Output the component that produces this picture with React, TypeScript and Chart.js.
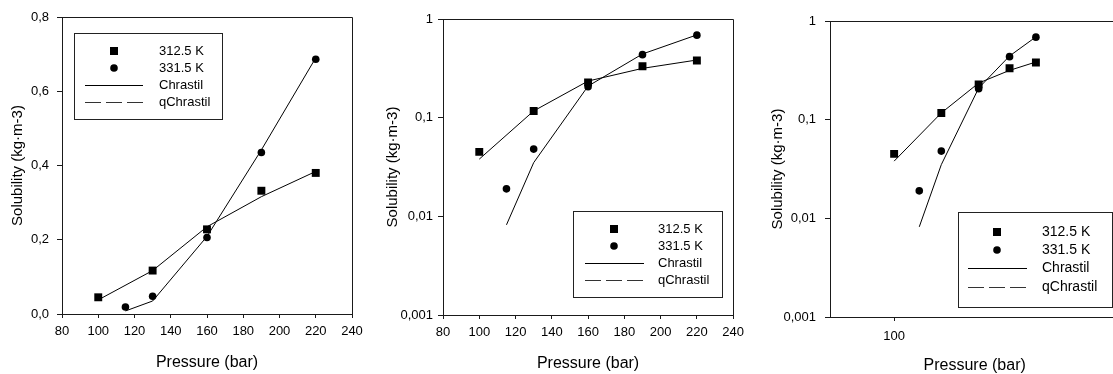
import React, { useEffect, useRef } from 'react';
import { Chart, registerables } from 'chart.js';

Chart.register(...registerables);

// ---- data ----
const pressureSquares = [100, 130, 160, 190, 220];
const solubility3125 = [0.045, 0.117, 0.228, 0.332, 0.38];
const pressureCircles = [115, 130, 160, 190, 220];
const solubility3315 = [0.019, 0.048, 0.206, 0.435, 0.686];
const chrastil3125 = [0.038, 0.117, 0.235, 0.316, 0.384];
const chrastil3315 = [0.0082, 0.035, 0.209, 0.442, 0.69];
const legendLabels = ['312.5 K', '331.5 K', 'Chrastil', 'qChrastil'];
const linearYTicks = [0, 0.2, 0.4, 0.6, 0.8];
const logYTicks = [0.001, 0.01, 0.1, 1];
const linearXTicks = [80, 100, 120, 140, 160, 180, 200, 220, 240];
const logXTicks = [100];
const xTitle = 'Pressure (bar)';
const yTitle = 'Solubility (kg·m-3)';

const FONT = 'Arial, "Liberation Sans", sans-serif';
const INK = '#000';
const AXIS = '#1a1a1a';

type LegendSpec = {
  box: [number, number, number, number];
  rows: number[];
  markerX: number;
  line: [number, number];
  textX: number;
  fontSize: number;
};

type PanelSpec = {
  left: number;
  width: number;
  height: number;
  area: { left: number; right: number; top: number; bottom: number };
  xType: 'linear' | 'logarithmic';
  xMin: number;
  xMax: number;
  xTicks: number[];
  yType: 'linear' | 'logarithmic';
  yMin: number;
  yMax: number;
  yTicks: number[];
  yLabelPad: number;
  xLabelPad: number;
  xTitlePad: number;
  yTitlePad: number;
  legend: LegendSpec;
  drawRight: boolean;
};

const pts = (xs: number[], ys: number[]) => xs.map((x, i) => ({ x, y: ys[i] }));

const fmtY = (v: number) => {
  if (v === 1) return '1';
  if (v >= 0.1 || v === 0) return v.toFixed(1).replace('.', ',');
  return String(v).replace('.', ',');
};
const fmtYLog = (v: number) => (v === 1 ? '1' : String(v).replace('.', ','));

const panels: PanelSpec[] = [
  {
    left: 0, width: 375, height: 374,
    area: { left: 62, right: 352, top: 17, bottom: 314 },
    xType: 'linear', xMin: 80, xMax: 240, xTicks: linearXTicks,
    yType: 'linear', yMin: 0, yMax: 0.8, yTicks: linearYTicks,
    yLabelPad: 8, xLabelPad: 6, xTitlePad: 3, yTitlePad: 10,
    legend: { box: [74, 33, 148, 86], rows: [51, 68, 85, 102], markerX: 114, line: [85, 143], textX: 159, fontSize: 13 },
    drawRight: true,
  },
  {
    left: 375, width: 375, height: 374,
    area: { left: 68, right: 360, top: 19, bottom: 315 },
    xType: 'linear', xMin: 80, xMax: 240, xTicks: linearXTicks,
    yType: 'logarithmic', yMin: 0.001, yMax: 1, yTicks: logYTicks,
    yLabelPad: 5, xLabelPad: 6, xTitlePad: 2, yTitlePad: 10.5,
    legend: { box: [198, 211, 149, 86], rows: [229, 246, 263, 280], markerX: 239, line: [210, 269], textX: 283, fontSize: 13 },
    drawRight: true,
  },
  {
    left: 750, width: 375, height: 374,
    area: { left: 80, right: 370, top: 21, bottom: 317 },
    xType: 'logarithmic', xMin: 70, xMax: 350, xTicks: logXTicks,
    yType: 'logarithmic', yMin: 0.001, yMax: 1, yTicks: logYTicks,
    yLabelPad: 9, xLabelPad: 8, xTitlePad: 0.5, yTitlePad: 20.5,
    legend: { box: [208, 212, 154, 95], rows: [232, 250, 268, 287], markerX: 247, line: [218, 277], textX: 292, fontSize: 14 },
    drawRight: false,
  },
];

function makeFramePlugin(spec: PanelSpec) {
  return {
    id: 'frameAndLegend',
    afterDraw(chart: any) {
      const ctx: CanvasRenderingContext2D = chart.ctx;
      const a = chart.chartArea;
      ctx.save();
      ctx.strokeStyle = AXIS;
      ctx.lineWidth = 1;
      ctx.beginPath();
      const top = Math.round(a.top) + 0.5;
      const right = Math.round(a.right) + 0.5;
      ctx.moveTo(Math.round(a.left), top);
      ctx.lineTo(spec.drawRight ? right : chart.width, top);
      if (spec.drawRight) ctx.lineTo(right, Math.round(a.bottom) + 1);
      ctx.stroke();

      // legend
      const L = spec.legend;
      ctx.fillStyle = '#fff';
      ctx.fillRect(L.box[0], L.box[1], L.box[2], L.box[3]);
      ctx.strokeStyle = '#222';
      ctx.strokeRect(L.box[0] + 0.5, L.box[1] + 0.5, L.box[2], L.box[3]);
      ctx.fillStyle = INK;
      // square
      ctx.fillRect(L.markerX - 4, L.rows[0] - 4, 8, 8);
      // circle
      ctx.beginPath();
      ctx.arc(L.markerX, L.rows[1], 3.8, 0, Math.PI * 2);
      ctx.fill();
      // solid line
      ctx.strokeStyle = INK;
      ctx.beginPath();
      ctx.moveTo(L.line[0], L.rows[2] + 0.5);
      ctx.lineTo(L.line[1], L.rows[2] + 0.5);
      ctx.stroke();
      // dashed line
      ctx.setLineDash([16, 5]);
      ctx.strokeStyle = '#333';
      ctx.beginPath();
      ctx.moveTo(L.line[0], L.rows[3] + 0.5);
      ctx.lineTo(L.line[1], L.rows[3] + 0.5);
      ctx.stroke();
      ctx.setLineDash([]);
      ctx.font = `${L.fontSize}px ${FONT}`;
      ctx.textBaseline = 'middle';
      ctx.textAlign = 'left';
      ctx.fillStyle = INK;
      legendLabels.forEach((t, i) => ctx.fillText(t, L.textX, L.rows[i] + 0.5));
      ctx.restore();
    },
  };
}

function Panel({ spec }: { spec: PanelSpec }) {
  const ref = useRef<HTMLCanvasElement | null>(null);
  useEffect(() => {
    if (!ref.current) return;
    const a = spec.area;
    const chart = new Chart(ref.current, {
      type: 'scatter',
      data: {
        datasets: [
          {
            label: legendLabels[0],
            data: pts(pressureSquares, solubility3125),
            pointStyle: 'rect',
            pointRadius: 5.6,
            backgroundColor: INK,
            borderColor: INK,
            borderWidth: 0,
            showLine: false,
          },
          {
            label: legendLabels[1],
            data: pts(pressureCircles, solubility3315),
            pointStyle: 'circle',
            pointRadius: 3.8,
            backgroundColor: INK,
            borderColor: INK,
            borderWidth: 0,
            showLine: false,
          },
          {
            label: legendLabels[2],
            data: pts(pressureSquares, chrastil3125),
            showLine: true,
            pointRadius: 0,
            borderColor: INK,
            borderWidth: 1,
          },
          {
            label: legendLabels[2],
            data: pts(pressureCircles, chrastil3315),
            showLine: true,
            pointRadius: 0,
            borderColor: INK,
            borderWidth: 1,
          },
          {
            label: legendLabels[3],
            data: [],
            showLine: true,
            pointRadius: 0,
            borderColor: INK,
            borderWidth: 1,
            borderDash: [16, 5],
          },
        ],
      },
      options: {
        animation: false,
        responsive: false,
        devicePixelRatio: 1,
        layout: {
          padding: { top: a.top, right: spec.width - a.right, bottom: 0, left: 0 },
        },
        plugins: { legend: { display: false }, tooltip: { enabled: false } },
        scales: {
          x: {
            type: spec.xType,
            position: 'bottom',
            min: spec.xMin,
            max: spec.xMax,
            afterBuildTicks: (s: any) => {
              s.ticks = spec.xTicks.map((v) => ({ value: v }));
            },
            afterFit: (s: any) => {
              s.height = spec.height - a.bottom;
            },
            ticks: {
              autoSkip: false,
              maxRotation: 0,
              color: INK,
              padding: spec.xLabelPad,
              font: { family: FONT, size: 13 },
              callback: (v: any) => String(v),
            },
            grid: { drawOnChartArea: false, drawTicks: true, tickLength: 4, color: AXIS },
            border: { display: true, color: AXIS, width: 1 },
            title: {
              display: true,
              text: xTitle,
              color: INK,
              font: { family: FONT, size: 16, lineHeight: 1 },
              padding: { top: 0, bottom: spec.xTitlePad },
            },
          },
          y: {
            type: spec.yType,
            position: 'left',
            min: spec.yMin,
            max: spec.yMax,
            afterBuildTicks: (s: any) => {
              s.ticks = spec.yTicks.map((v) => ({ value: v }));
            },
            afterFit: (s: any) => {
              s.width = a.left;
            },
            ticks: {
              autoSkip: false,
              color: INK,
              padding: spec.yLabelPad,
              font: { family: FONT, size: 13 },
              callback: (v: any) => (spec.yType === 'linear' ? fmtY(Number(v)) : fmtYLog(Number(v))),
            },
            grid: { drawOnChartArea: false, drawTicks: true, tickLength: 5, color: AXIS },
            border: { display: true, color: AXIS, width: 1 },
            title: {
              display: true,
              text: yTitle,
              color: INK,
              font: { family: FONT, size: 15, lineHeight: 1 },
              padding: { top: spec.yTitlePad, bottom: 0 },
            },
          },
        },
      } as any,
      plugins: [makeFramePlugin(spec)],
    });
    return () => chart.destroy();
  }, [spec]);
  return (
    <div style={{ position: 'absolute', left: spec.left, top: 0, width: spec.width, height: spec.height }}>
      <canvas ref={ref} width={spec.width} height={spec.height} style={{ display: 'block' }} />
    </div>
  );
}

export default function App() {
  return (
    <div
      style={{
        position: 'fixed',
        left: 0,
        top: 0,
        width: 1113,
        height: 374,
        overflow: 'hidden',
        background: '#fff',
      }}
    >
      {panels.map((p, i) => (
        <Panel key={i} spec={p} />
      ))}
    </div>
  );
}
